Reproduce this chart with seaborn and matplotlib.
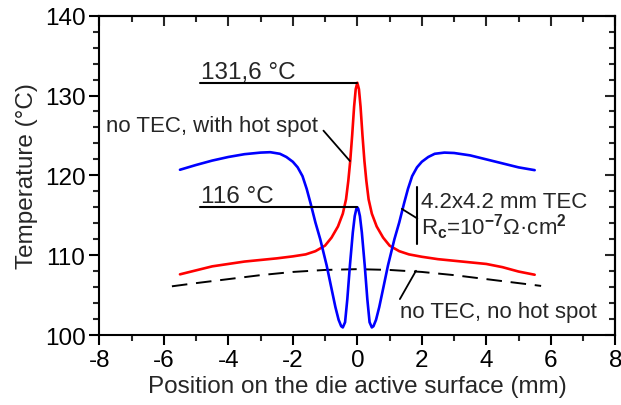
import matplotlib
matplotlib.use("Agg")
import matplotlib.pyplot as plt
from matplotlib.ticker import MultipleLocator
import numpy as np
import pandas as pd
import seaborn as sns

# Temperature profiles across the die active surface (position in mm, temperature in °C)
hot_x = [-5.5, -5.0, -4.5, -4.0, -3.5, -3.0, -2.5, -2.0, -1.6, -1.3, -1.0, -0.8, -0.6,
         -0.45, -0.35, -0.28, -0.22, -0.16, -0.10, -0.05, 0.0,
         0.05, 0.10, 0.16, 0.22, 0.28, 0.35, 0.45, 0.6, 0.8, 1.0, 1.3, 1.6, 2.0,
         2.5, 3.0, 3.5, 4.0, 4.5, 5.0, 5.5]
hot_t = [107.6, 108.1, 108.6, 108.9, 109.2, 109.4, 109.6, 109.85, 110.1, 110.5, 111.2, 112.2, 113.6,
         115.2, 117.0, 119.3, 121.8, 125.0, 128.6, 130.8, 131.6,
         130.8, 128.6, 125.0, 121.8, 119.3, 117.0, 115.2, 113.6, 112.2, 111.2, 110.5, 110.1, 109.8,
         109.5, 109.3, 109.1, 108.9, 108.5, 107.95, 107.55]

tec_x = [-5.5, -5.0, -4.5, -4.0, -3.5, -3.0, -2.7, -2.4, -2.2, -2.0, -1.85, -1.7, -1.57,
         -1.45, -1.3, -1.15, -0.95, -0.8, -0.68, -0.58, -0.5, -0.45, -0.38, -0.31, -0.23,
         -0.14, -0.08, -0.03, 0.0,
         0.03, 0.08, 0.14, 0.23, 0.31, 0.38, 0.45, 0.5, 0.58, 0.68, 0.8, 0.95, 1.15, 1.3,
         1.45, 1.57, 1.7, 1.85, 2.0, 2.2, 2.4, 2.7, 3.0, 3.5, 4.0, 4.5, 5.0, 5.5]
tec_t = [120.7, 121.3, 121.85, 122.3, 122.65, 122.85, 122.9, 122.7, 122.3, 121.7, 121.0, 119.9, 118.3,
         116.5, 114.1, 112.0, 108.7, 105.8, 103.5, 101.9, 101.1, 100.95, 101.6, 104.5, 108.7,
         112.85, 114.9, 115.8, 116.0,
         115.8, 114.9, 112.85, 108.7, 104.5, 101.6, 100.95, 101.1, 101.9, 103.5, 105.8, 108.7, 112.0, 114.1,
         116.5, 118.3, 119.9, 121.0, 121.7, 122.3, 122.7, 122.85, 122.8, 122.5, 122.0, 121.5, 121.0, 120.65]

base_x = [-5.75, -5.0, -4.0, -3.0, -2.0, -1.0, 0.0, 1.0, 2.0, 3.0, 4.0, 5.0, 5.7]
base_t = [106.1, 106.5, 107.0, 107.5, 107.9, 108.15, 108.25, 108.15, 107.9, 107.5, 107.0, 106.5, 106.15]

x_ticks = [-8, -6, -4, -2, 0, 2, 4, 6, 8]
y_ticks = [100, 110, 120, 130, 140]

hot_peak = 131.6
tec_peak = 116.0

sns.set_theme(style="ticks")
plt.rcParams["font.family"] = ["Liberation Sans", "DejaVu Sans"]
plt.rcParams["mathtext.fontset"] = "custom"
plt.rcParams["mathtext.rm"] = "Liberation Sans"
plt.rcParams["mathtext.bf"] = "Liberation Sans:bold"
plt.rcParams["axes.linewidth"] = 1.5
plt.rcParams["axes.unicode_minus"] = False

BIG = 17.5
SMALL = 16

fig = plt.figure(figsize=(6.21, 4.06), dpi=100)
ax = fig.add_axes([0.16, 0.1724, 0.8308, 0.7865])

df_hot = pd.DataFrame({"x": hot_x, "T": hot_t})
df_tec = pd.DataFrame({"x": tec_x, "T": tec_t})
df_base = pd.DataFrame({"x": base_x, "T": base_t})

sns.lineplot(data=df_base, x="x", y="T", ax=ax, color="black", lw=1.4,
             estimator=None, sort=False, linestyle=(0, (8, 4.5)))
sns.lineplot(data=df_hot, x="x", y="T", ax=ax, color="#ff0000", lw=1.9,
             estimator=None, sort=False)
sns.lineplot(data=df_tec, x="x", y="T", ax=ax, color="#0000ff", lw=1.9,
             estimator=None, sort=False)

ax.set_xlim(-8, 8)
ax.set_ylim(100, 140)
ax.set_xticks(x_ticks)
ax.set_yticks(y_ticks)
ax.xaxis.set_minor_locator(MultipleLocator(1))
ax.yaxis.set_minor_locator(MultipleLocator(2))
ax.tick_params(which="major", direction="out", length=7, width=1.5, labelsize=BIG,
               colors="black", pad=3)
ax.tick_params(which="minor", direction="out", length=4, width=1.5)

# Mirror ticks pointing inward on the top and right edges
top = ax.secondary_xaxis("top")
top.set_xticks(x_ticks)
top.xaxis.set_minor_locator(MultipleLocator(1))
top.tick_params(which="major", direction="in", length=7, width=1.5, labeltop=False)
top.tick_params(which="minor", direction="in", length=4, width=1.5)
right = ax.secondary_yaxis("right")
right.set_yticks(y_ticks)
right.yaxis.set_minor_locator(MultipleLocator(2))
right.tick_params(which="major", direction="in", length=7, width=1.5, labelright=False)
right.tick_params(which="minor", direction="in", length=4, width=1.5)

for s in ax.spines.values():
    s.set_color("black")

ax.set_xlabel("Position on the die active surface (mm)", fontsize=BIG, labelpad=3)
ax.set_ylabel("Temperature (°C)", fontsize=BIG, labelpad=5)

# Peak value markers
ax.plot([-4.88, 0], [hot_peak, hot_peak], color="black", lw=1.5)
ax.text(-4.85, 132.2, f"{hot_peak:.1f}".replace(".", ",") + " °C", fontsize=BIG, va="baseline")
ax.plot([-4.88, 0], [tec_peak, tec_peak], color="black", lw=1.5)
ax.text(-4.85, 116.7, f"{tec_peak:.0f} °C", fontsize=BIG, va="baseline")

# Curve labels with leader lines
ax.text(-7.79, 125.5, "no TEC, with hot spot", fontsize=SMALL, va="baseline")
ax.plot([-1.05, -0.23], [125.6, 121.8], color="black", lw=1.3)

ax.plot([1.86, 1.86], [111.4, 118.5], color="black", lw=1.5)
ax.plot([1.38, 1.86], [115.8, 114.6], color="black", lw=1.3)
ax.text(1.97, 116.0, "4.2x4.2 mm TEC", fontsize=SMALL, va="baseline")
ax.text(1.97, 112.65, r"R$_\mathbf{c}$=10$^\mathbf{-7}$Ω·cm$^\mathbf{2}$", fontsize=SMALL,
        va="baseline")

ax.text(1.32, 102.2, "no TEC, no hot spot", fontsize=SMALL, va="baseline")
ax.plot([1.32, 1.82], [104.5, 108.05], color="black", lw=1.3)

fig.savefig("out.png", dpi=100)
